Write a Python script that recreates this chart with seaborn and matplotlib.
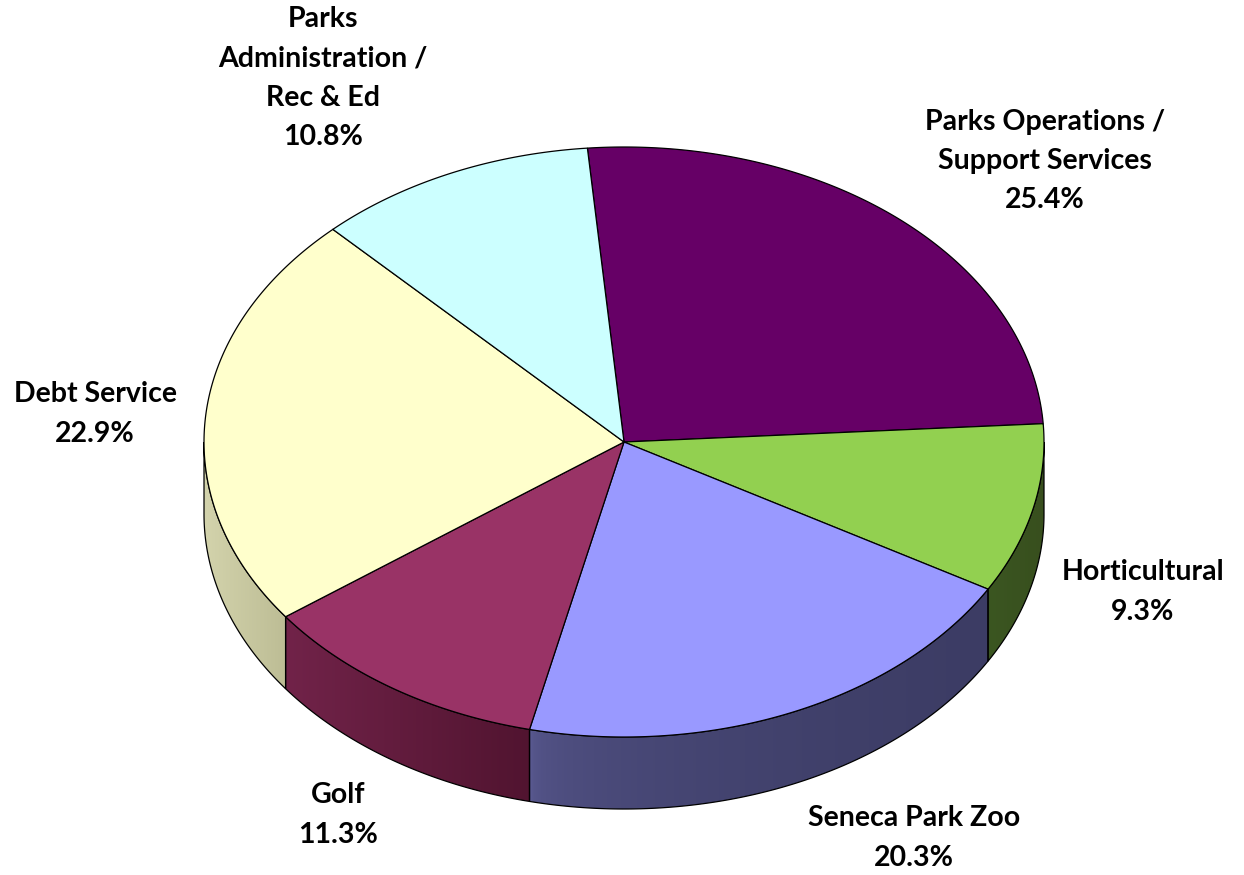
import numpy as np
import matplotlib
matplotlib.use("Agg")
import matplotlib.pyplot as plt
from matplotlib.patches import Polygon
from matplotlib.colors import to_rgb
import seaborn as sns

# Budget shares, listed clockwise from the top of the pie
categories = ["Parks Operations /\nSupport Services", "Horticultural", "Seneca Park Zoo",
              "Golf", "Debt Service", "Parks\nAdministration /\nRec & Ed"]
shares = [25.4, 9.3, 20.3, 11.3, 22.9, 10.8]

top_colors = ["#660066", "#92D050", "#9999FF", "#993366", "#FFFFCC", "#CCFFFF"]
side_left = ["#3a003a", "#3b5621", "#5a5a92", "#712349", "#d3d3ac", "#99bfbf"]
side_right = ["#2e002e", "#384f1e", "#3c3c64", "#511430", "#bdbd95", "#88aaaa"]
side_gamma = [1.0, 1.0, 0.35, 1.0, 1.0, 1.0]

# label anchor points (figure pixels, centre of each text block)
label_pos = [(1045, 161), (1143, 592), (914, 838), (338, 815), (95, 414), (323, 78)]

sns.set_theme(style="white")
plt.rcParams["font.family"] = ["Lato", "DejaVu Sans"]
palette = sns.color_palette(top_colors)

W, H = 1244, 875
fig = plt.figure(figsize=(W / 100, H / 100), dpi=100)
ax = fig.add_axes([0, 0, 1, 1])
ax.set_xlim(0, W)
ax.set_ylim(H, 0)
ax.axis("off")

cx, cy, rx, ry, depth = 624, 442, 420, 295, 72
start = 95.0

def ellipse(angles_deg, dy=0.0):
    t = np.radians(angles_deg)
    return np.column_stack([cx + rx * np.cos(t), cy - ry * np.sin(t) + dy])

fracs = np.array(shares) / np.sum(shares)
bounds = start - 360 * np.concatenate([[0], np.cumsum(fracs)])

# side walls (front half only: angles between -180 and 0)
for i in range(len(shares)):
    a0, a1 = bounds[i], bounds[i + 1]  # a0 > a1
    for shift in (0, -360, 360):
        hi = min(a0 + shift, 0.0)
        lo = max(a1 + shift, -180.0)
        if hi <= lo:
            continue
        angs = np.linspace(hi, lo, 200)
        topedge = ellipse(angs)
        botedge = ellipse(angs[::-1], depth)
        verts = np.vstack([topedge, botedge])
        poly = Polygon(verts, closed=True, facecolor="none", edgecolor="black", lw=0.9, zorder=3)
        ax.add_patch(poly)
        x0, x1 = verts[:, 0].min(), verts[:, 0].max()
        y0, y1 = verts[:, 1].min(), verts[:, 1].max()
        cl, cr = np.array(to_rgb(side_left[i])), np.array(to_rgb(side_right[i]))
        g = (np.linspace(0, 1, 256) ** side_gamma[i])[:, None]
        img = (cl[None, :] * (1 - g) + cr[None, :] * g)[None, :, :]
        im = ax.imshow(img, extent=[x0, x1, y1, y0], aspect="auto", zorder=2,
                       interpolation="bilinear")
        clip = Polygon(verts, closed=True, transform=ax.transData)
        im.set_clip_path(clip)

ax.set_xlim(0, W)
ax.set_ylim(H, 0)

# top faces
for i in range(len(shares)):
    angs = np.linspace(bounds[i], bounds[i + 1], 300)
    verts = np.vstack([[cx, cy], ellipse(angs)])
    ax.add_patch(Polygon(verts, closed=True, facecolor=palette[i], edgecolor="black",
                         lw=0.9, zorder=4))

# labels
for name, pct, (lx, ly) in zip(categories, shares, label_pos):
    ax.text(lx, ly, f"{name}\n{pct:.1f}%", ha="center", va="center", fontsize=20.5,
            fontweight="bold", color="black", linespacing=1.62, zorder=5)

fig.savefig("out.png", dpi=100, facecolor="white")
